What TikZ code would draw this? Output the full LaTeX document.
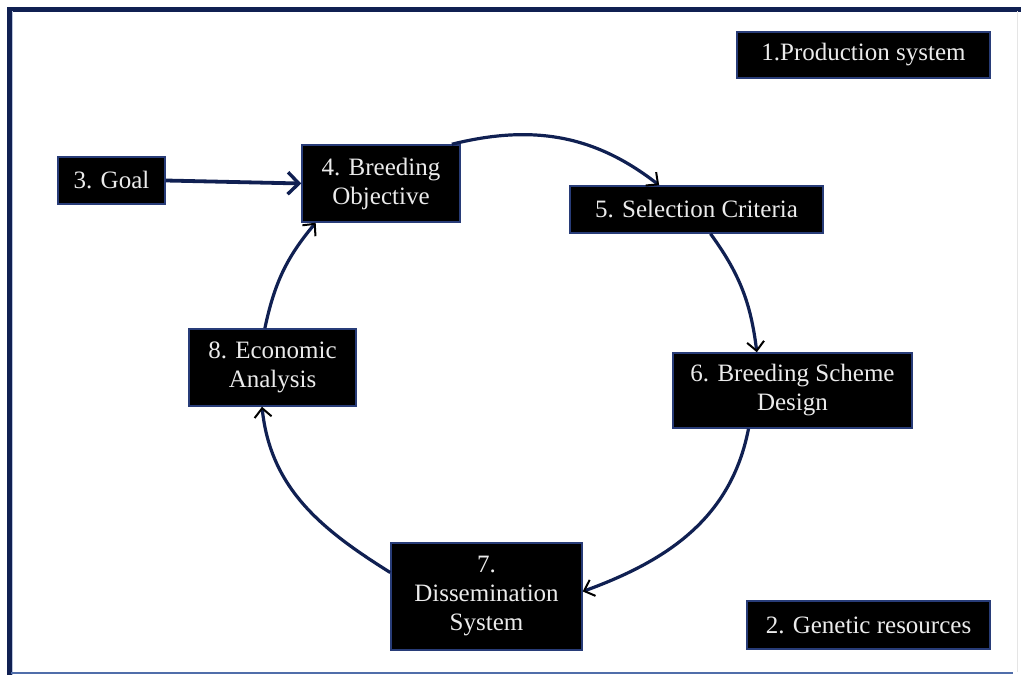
\documentclass[tikz,border=0pt]{standalone}
\usepackage{fontspec}
\setmainfont{Liberation Serif}
\usetikzlibrary{arrows.meta}
\definecolor{navy}{RGB}{16,32,82}
\definecolor{boxline}{RGB}{40,60,120}
\definecolor{boxtext}{RGB}{235,235,235}
\definecolor{frameblue}{RGB}{80,110,170}

\begin{document}
\begin{tikzpicture}[x=1pt,y=1pt,
    stagebox/.style={draw=boxline, line width=1.5pt, fill=black, text=boxtext, align=center,
        inner sep=0pt, font=\fontsize{25}{29}\selectfont},
    cyclearrow/.style={draw=navy, line width=3.2pt, -{Straight Barb[length=9pt,width=17pt,line width=2pt,color=black]}},
    goalarrow/.style={draw=navy, line width=3.8pt, -{Straight Barb[length=11pt,width=22pt,line width=3.4pt]}}]
    \useasboundingbox (0,0) rectangle (1021,-675);
    % frame
    \draw[navy, line width=5pt](7,-9)--(1021,-9);
    \draw[navy, line width=5pt](9,-7)--(9,-675);
    \draw[frameblue!40, line width=1pt](12.5,-11)--(12.5,-675);
    \draw[frameblue, line width=1.5pt](11,-673)--(1013,-673);
    \draw[gray!20, line width=1pt](1017,-11)--(1017,-672);
    % boxes
    \node[stagebox, minimum width=253, minimum height=46] (b1) at (863.5,-55) {1.Production system};
    \node[stagebox, minimum width=243, minimum height=48] (b2) at (868.5,-625) {2. Genetic resources};
    \node[stagebox, minimum width=107, minimum height=47] (b3) at (111.5,-180.5) {3. Goal};
    \node[stagebox, minimum width=158, minimum height=77] (b4) at (381,-183.5) {4. Breeding\\Objective};
    \node[stagebox, minimum width=253, minimum height=47] (b5) at (696.5,-209.5) {5. Selection Criteria};
    \node[stagebox, minimum width=239, minimum height=75] (b6) at (792.5,-390.5) {6. Breeding Scheme\\Design};
    \node[stagebox, minimum width=191, minimum height=107] (b7) at (486.5,-596.5) {7.\\Dissemination\\System};
    \node[stagebox, minimum width=167, minimum height=77] (b8) at (272.5,-367.5) {8. Economic\\Analysis};
    % cycle
    \draw[cyclearrow](b4.29) to[out=14, in=142] (b5.147);
    \draw[cyclearrow](b5.-60) to[out=-54, in=97] (b6.133);
    \draw[cyclearrow](b6.221) to[out=-101, in=20] (b7.3);
    \draw[cyclearrow](b7.166) to[out=148, in=-84] (b8.255);
    \draw[cyclearrow](b8.101) to[out=78, in=230] (b4.211);
    \draw[goalarrow](b3.east)--(b4.west);
\end{tikzpicture}
\end{document}
